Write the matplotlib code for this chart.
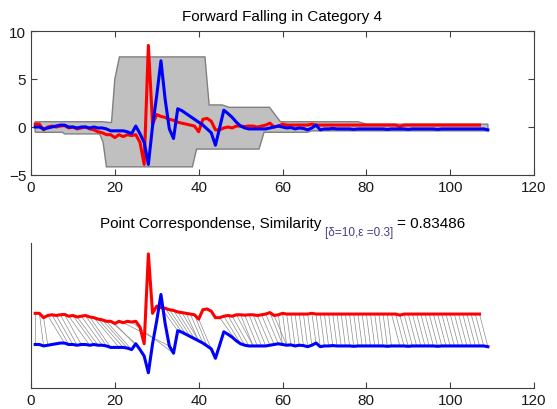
import matplotlib
matplotlib.use("Agg")
import matplotlib.pyplot as plt
from matplotlib.collections import LineCollection

plt.rcParams['font.family'] = ['Liberation Sans', 'DejaVu Sans']

# --- datos ---
red_y = [0.3, 0.3, -0.3, 0.0, 0.1, 0.0, 0.1, 0.15, -0.1, 0.0,
         -0.2, -0.1, 0.0, -0.2, -0.3, -0.5, -0.6, -0.8, -0.8, -1.1,
         -0.8, -1.0, -0.8, -0.9, -0.8, -1.6, -3.9, 8.5, 0.3, 1.3,
         1.1, 1.0, 0.8, 0.7, 0.5, 0.4, 0.3, 0.2, 0.1, -0.5,
         0.8, 0.9, 0.6, -0.3, -0.3, -0.1, 0.0, -0.1, 0.1, 0.1,
         0.05, 0.1, 0.1, 0.0, 0.1, 0.2, 0.4, 0.0, 0.1, 0.3,
         0.2, 0.2, 0.2, 0.2, 0.2, 0.2, 0.3, 0.2, 0.2, 0.2,
         0.2, 0.2, 0.2, 0.2, 0.2, 0.2, 0.2, 0.2, 0.2, 0.2,
         0.2, 0.2, 0.2, 0.2, 0.2, 0.2, 0.2, 0.05, 0.2, 0.2,
         0.2, 0.2, 0.2, 0.2, 0.2, 0.2, 0.2, 0.2, 0.2, 0.2,
         0.2, 0.2, 0.2, 0.2, 0.2, 0.2, 0.2]
red_x = list(range(1, len(red_y) + 1))

blue_y = [0.0, 0.0, -0.2, -0.1, 0.0, 0.1, 0.2, 0.2, 0.0, 0.0,
          -0.1, 0.0, 0.0, -0.1, 0.0, -0.1, -0.1, -0.2, -0.4, -0.4,
          -0.4, -0.4, -0.5, -0.7, 0.1, -0.7, -1.6, -3.9, 0.1, 3.3,
          6.9, 2.9, -0.2, -1.2, 1.9, 1.7, 1.4, 1.1, 0.8, 0.5,
          0.2, -0.2, -0.6, -1.9, -0.1, 1.75, 1.4, 1.0, 0.5, 0.1,
          -0.1, -0.2, -0.2, -0.2, -0.2, -0.2, -0.1, 0.0, 0.1, 0.0,
          -0.1, -0.05, -0.2, -0.1, -0.15, -0.3, -0.1, 0.2, -0.3, -0.2,
          -0.2, -0.15, -0.2, -0.2, -0.2, -0.2, -0.25, -0.2, -0.2, -0.2,
          -0.2, -0.2, -0.2, -0.2, -0.25, -0.2, -0.2, -0.2, -0.2, -0.25,
          -0.2, -0.2, -0.2, -0.2, -0.2, -0.2, -0.25, -0.2, -0.2, -0.2,
          -0.2, -0.2, -0.2, -0.2, -0.2, -0.2, -0.2, -0.2, -0.3]
blue_x = list(range(1, len(blue_y) + 1))

# banda gris (borde superior e inferior)
band_upper_x = [1, 17, 19.2, 20, 21.1, 41.5, 42.5, 45.6, 47.2, 56.9, 59.5, 78, 80, 109]
band_upper_y = [0.55, 0.55, 0.45, 5.0, 7.3, 7.3, 2.3, 2.3, 2.05, 2.05, 0.55, 0.55, 0.3, 0.3]
band_lower_x = [1, 7.5, 8, 16.4, 17.2, 18, 38.5, 39.5, 54.4, 55.6, 66, 67, 109]
band_lower_y = [-0.55, -0.55, -0.72, -0.72, -1.6, -4.15, -4.15, -2.3, -2.3, -0.55, -0.55, -0.4, -0.4]

# correspondencias (indice rojo -> indice azul)
match_red = [1, 2, 3, 4, 5, 6, 7, 8, 9, 10, 11, 12, 13, 14, 15, 16, 17, 18, 19, 20,
             22, 24, 31, 32, 33, 34, 35, 36, 37, 38, 39, 40,
             45, 46, 47, 48, 49, 50, 51, 52, 53, 54, 55, 56, 57, 58,
             59, 60, 61, 62, 63, 64, 65, 66, 67, 68, 69, 70, 71, 72, 73, 74, 75, 76, 77, 78,
             79, 80, 81, 82, 83, 84, 85, 86, 87, 88, 89, 90, 91, 92, 93, 94, 95, 96, 97, 98,
             99, 100, 101, 102, 103, 104, 105, 106, 107]
match_blue = [1, 3, 4, 8, 9, 10, 11, 12, 14, 15, 16, 17, 18, 19, 21, 22, 23, 24, 25, 26,
              33, 34, 35, 36, 37, 38, 39, 40, 40, 41, 42, 43,
              49, 50, 51, 52, 53, 53, 54, 55, 56, 57, 58, 59, 60, 61,
              60, 61, 62, 63, 64, 65, 66, 67, 68, 69, 70, 71, 72, 73, 74, 75, 76, 77, 78, 79,
              80, 81, 82, 83, 84, 85, 86, 88, 89, 90, 91, 92, 93, 94, 95, 96, 97, 98, 99, 100,
              101, 102, 103, 104, 105, 106, 107, 108, 109]

red_offset = 4.0
x_ticks = [0, 20, 40, 60, 80, 100, 120]
y_ticks = [-5, 0, 5, 10]

W, H = 557, 410
fig = plt.figure(figsize=(W / 100, H / 100), dpi=100)

# --- grafico superior ---
ax1 = fig.add_axes([31 / W, 1 - 176 / H, 503 / W, 144 / H])
ax1.fill(band_upper_x + band_lower_x[::-1], band_upper_y + band_lower_y[::-1],
         facecolor='#c0c0c0', edgecolor='#7f7f7f', lw=1.0)
ax1.plot(red_x, red_y, color='#ff0000', lw=2.2)
ax1.plot(blue_x, blue_y, color='#0000ff', lw=2.2)
ax1.set_xlim(0, 120)
ax1.set_ylim(-5, 10)
ax1.set_xticks(x_ticks)
ax1.set_yticks(y_ticks)
ax1.tick_params(direction='in', top=True, right=True, length=4, width=0.8,
                labelsize=11, color='#404040', labelcolor='#1a1a1a', pad=3.5)
for s in ax1.spines.values():
    s.set_color('#404040')
    s.set_linewidth(0.8)
ax1.set_title('Forward Falling in Category 4', fontsize=11, pad=8)

# --- grafico inferior ---
ax2 = fig.add_axes([31 / W, 1 - 389 / H, 503 / W, 145 / H])
segs = [[(r, red_y[r - 1] + red_offset), (b, blue_y[b - 1])]
        for r, b in zip(match_red, match_blue)]
ax2.add_collection(LineCollection(segs, colors='#8c8c8c', linewidths=0.5))
ax2.plot(red_x, [v + red_offset for v in red_y], color='#ff0000', lw=2.2)
ax2.plot(blue_x, blue_y, color='#0000ff', lw=2.2)
ax2.set_xlim(0, 120)
ax2.set_ylim(-6, 14)
ax2.set_xticks(x_ticks)
ax2.set_yticks([])
ax2.spines['top'].set_visible(False)
ax2.spines['right'].set_visible(False)
for s in ('left', 'bottom'):
    ax2.spines[s].set_color('#404040')
    ax2.spines[s].set_linewidth(0.8)
ax2.tick_params(direction='in', length=4, width=0.8, labelsize=11,
                color='#404040', labelcolor='#1a1a1a', pad=3.5)

# titulo inferior en tres partes (subindice mas pequeno)
renderer = fig.canvas.get_renderer()
y_base = 1 - 228 / H
t1 = fig.text(0, y_base, 'Point Correspondense, Similarity', fontsize=11, va='baseline')
t2 = fig.text(0, 1 - 236 / H, '[δ=10,ε =0.3]', fontsize=8.5, va='baseline', color='#4a3a8a')
t3 = fig.text(0, y_base, '= 0.83486', fontsize=11, va='baseline')
gap = 4
widths = [t.get_window_extent(renderer).width for t in (t1, t2, t3)]
total = sum(widths) + 2 * gap
x = (31 + 534) / 2 - total / 2
for t, w in zip((t1, t2, t3), widths):
    t.set_x(x / W)
    x += w + gap

fig.savefig('out.png', dpi=100)
